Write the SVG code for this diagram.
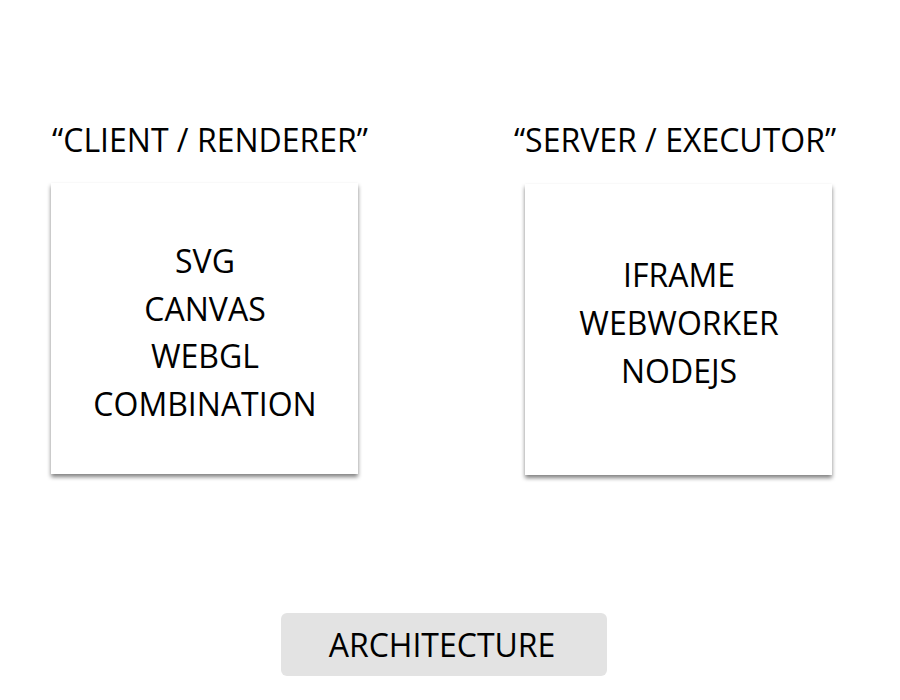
<svg xmlns="http://www.w3.org/2000/svg" width="900" height="700" viewBox="0 0 900 700">
<defs>
<filter id="sh" x="-10%" y="-10%" width="120%" height="125%">
<feGaussianBlur in="SourceAlpha" stdDeviation="2"/>
<feOffset dx="0" dy="3" result="b"/>
<feComponentTransfer><feFuncA type="linear" slope="0.5"/></feComponentTransfer>
<feMerge><feMergeNode/><feMergeNode in="SourceGraphic"/></feMerge>
</filter>
</defs>
<style>
text{font-family:"Open Sans","Liberation Sans",sans-serif;fill:#000;text-anchor:middle}
.t{font-size:32px}
.box{fill:#fff;filter:url(#sh)}
</style>
<rect width="900" height="700" fill="#fff"/>
<g id="client">
<text class="t" x="210" y="152">“CLIENT / RENDERER”</text>
<rect class="box" x="51" y="183" width="307" height="291"/>
<text class="t" x="205" y="273">SVG</text>
<text class="t" x="205" y="321">CANVAS</text>
<text class="t" x="205" y="368">WEBGL</text>
<text class="t" x="205" y="416">COMBINATION</text>
</g>
<g id="server">
<text class="t" x="675" y="152">“SERVER / EXECUTOR”</text>
<rect class="box" x="525" y="184" width="307" height="291"/>
<text class="t" x="679" y="287">IFRAME</text>
<text class="t" x="679" y="335">WEBWORKER</text>
<text class="t" x="679" y="383">NODEJS</text>
</g>
<g id="architecture">
<rect x="281" y="613" width="326" height="63" rx="6" fill="#e3e3e3"/>
<text class="t" x="442" y="657">ARCHITECTURE</text>
</g>
<g id="connectors"></g>
</svg>
